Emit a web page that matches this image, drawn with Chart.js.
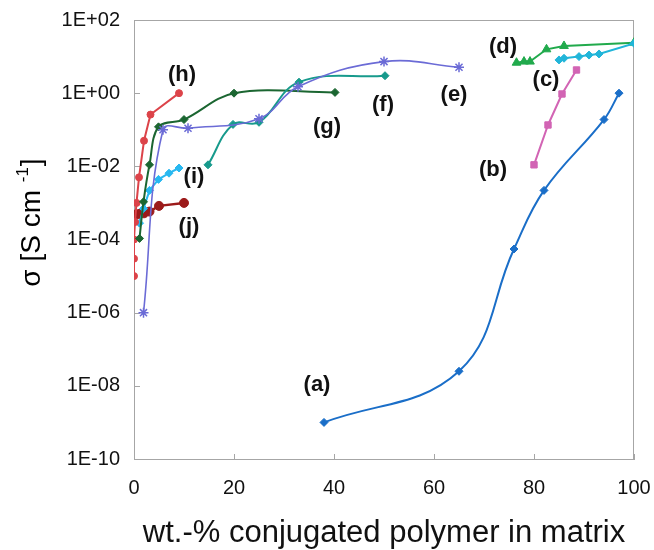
<!DOCTYPE html>
<html>
<head>
<meta charset="utf-8">
<script src="https://cdn.jsdelivr.net/npm/chart.js@4.4.1/dist/chart.umd.min.js"></script>
<style>
  html, body { margin: 0; padding: 0; background: #ffffff; }
  #wrap { width: 654px; height: 550px; position: relative; }
</style>
</head>
<body>
<div id="wrap"><canvas id="c" width="654" height="550"></canvas></div>
<script>
// ---- data ----
const seriesNames = ['(a)', '(b)', '(c)', '(d)', '(e)', '(f)', '(g)', '(h)', '(i)', '(j)'];

const aX = [38, 65, 76, 82, 94, 97];
const aY = [1e-9, 2.5e-8, 5.5e-5, 2.2e-3, 0.19, 1.0];

const bX = [80, 82.8, 85.6, 88.5];
const bY = [0.011, 0.135, 0.95, 4.3];

const cX = [85, 86, 89, 91, 93, 100];
const cY = [8.1, 9, 10, 11, 11.8, 23];

const dX = [76.5, 78, 79.2, 82.5, 86, 100];
const dY = [6.8, 7.3, 7.3, 15.8, 19.5, 24];

const eX = [1.9, 5.8, 10.8, 25, 32.8, 50, 65];
const eY = [1e-6, 0.1, 0.11, 0.2, 1.5, 7.3, 5.1];

const fX = [14.8, 19.8, 25, 33, 50.2];
const fY = [0.011, 0.14, 0.16, 2.0, 3.0];

const gX = [1.1, 1.9, 3.1, 4.9, 10, 20, 40.2];
const gY = [1.07e-4, 1.07e-3, 0.011, 0.12, 0.19, 1.0, 1.05];

const hX = [0, 0, 0, 0.2, 0.5, 1.0, 2.0, 3.3, 9.0];
const hY = [1e-5, 3e-5, 1e-4, 3e-4, 1e-3, 5e-3, 0.05, 0.26, 1.0];

const iX = [1.1, 1.9, 3.1, 4.9, 7, 9];
const iY = [2.8e-4, 7e-4, 2.2e-3, 4.4e-3, 6.5e-3, 9e-3];

const jX = [0.3, 1, 2, 3.1, 5, 10];
const jY = [4.8e-4, 5e-4, 5.2e-4, 5.8e-4, 8.3e-4, 1e-3];

const xTickValues = [0, 20, 40, 60, 80, 100];
const yTickValues = [1e-10, 1e-8, 1e-6, 1e-4, 1e-2, 1, 100];
const yTickLabels = ['1E-10', '1E-08', '1E-06', '1E-04', '1E-02', '1E+00', '1E+02'];

// series-label anchor points (in data units)
const labelX = [36.6, 71.8, 82.4, 73.8, 64, 49.8, 38.6, 9.6, 12, 11];
const labelY = [1.05e-8, 7.9e-3, 2.3, 18.3, 0.89, 0.48, 0.119, 3.1, 5.1e-3, 2.2e-4];

// ---- build ----
const pts = (xs, ys) => xs.map((x, i) => ({ x: x, y: ys[i] }));

function ds(name, xs, ys, color, style, radius, tension, width) {
  return {
    label: name,
    data: pts(xs, ys),
    borderColor: color,
    backgroundColor: color,
    pointStyle: style,
    pointRadius: radius,
    pointBorderWidth: style === 'star' ? 1.5 : 1,
    pointBorderColor: color,
    pointBackgroundColor: color,
    borderWidth: width,
    tension: tension,
    fill: false
  };
}

const datasets = [
  ds('(a)', aX, aY, '#1a6ec8', 'rectRot', 4, 0.4, 2),
  ds('(b)', bX, bY, '#d264b4', 'rect', 4.5, 0, 2),
  ds('(c)', cX, cY, '#21b5d9', 'rectRot', 4, 0, 2),
  ds('(d)', dX, dY, '#21aa4c', 'triangle', 5, 0, 2),
  ds('(e)', eX, eY, '#6b6bd6', 'star', 5, 0.4, 1.6),
  ds('(f)', fX, fY, '#179a8c', 'rectRot', 4, 0.4, 2),
  ds('(g)', gX, gY, '#1b6631', 'rectRot', 4, 0.35, 2),
  ds('(h)', hX, hY, '#dc4349', 'circle', 3.5, 0, 2),
  ds('(i)', iX, iY, '#28b8f0', 'rectRot', 4, 0, 2),
  ds('(j)', jX, jY, '#9c1a1a', 'circle', 4.5, 0, 2.5)
];

const AXIS = '#a6a6a6';

const decor = {
  id: 'decor',
  beforeDatasetsDraw(chart) {
    const { ctx, chartArea: ca, scales } = chart;
    ctx.save();
    ctx.strokeStyle = AXIS;
    ctx.lineWidth = 1;
    ctx.beginPath();
    // top and right frame
    ctx.moveTo(ca.left, ca.top + 0.5); ctx.lineTo(ca.right, ca.top + 0.5);
    ctx.moveTo(ca.right - 0.5, ca.top); ctx.lineTo(ca.right - 0.5, ca.bottom);
    // inward tick marks
    scales.x.ticks.forEach(t => {
      const px = Math.round(scales.x.getPixelForValue(t.value)) + 0.5;
      ctx.moveTo(px, ca.bottom); ctx.lineTo(px, ca.bottom - 5);
    });
    scales.y.ticks.forEach(t => {
      const py = Math.round(scales.y.getPixelForValue(t.value)) + 0.5;
      ctx.moveTo(ca.left, py); ctx.lineTo(ca.left + 6, py);
    });
    ctx.stroke();
    ctx.restore();
  },
  afterDraw(chart) {
    const { ctx, scales } = chart;
    ctx.save();
    // series labels
    ctx.fillStyle = '#111111';
    ctx.font = 'bold 22px "Liberation Sans", Arial, sans-serif';
    ctx.textAlign = 'center';
    ctx.textBaseline = 'middle';
    seriesNames.forEach((n, i) => {
      ctx.fillText(n, scales.x.getPixelForValue(labelX[i]), scales.y.getPixelForValue(labelY[i]));
    });
    // y axis title with superscript
    ctx.translate(32, 223);
    ctx.rotate(-Math.PI / 2);
    const mainFont = '28px "Liberation Sans", Arial, sans-serif';
    const supFont = '17px "Liberation Sans", Arial, sans-serif';
    const p1 = 'σ [S cm ', p2 = '-1', p3 = ']';
    ctx.font = mainFont; const w1 = ctx.measureText(p1).width; const w3 = ctx.measureText(p3).width;
    ctx.font = supFont; const w2 = ctx.measureText(p2).width;
    let x0 = -(w1 + w2 + w3) / 2;
    ctx.textAlign = 'left';
    ctx.fillStyle = '#000000';
    ctx.font = mainFont; ctx.fillText(p1, x0, 0);
    ctx.font = supFont; ctx.fillText(p2, x0 + w1, -9);
    ctx.font = mainFont; ctx.fillText(p3, x0 + w1 + w2 + 1, 0);
    ctx.restore();
  }
};

new Chart(document.getElementById('c'), {
  type: 'line',
  data: { datasets: datasets },
  options: {
    responsive: false,
    animation: false,
    devicePixelRatio: 1,
    layout: { padding: { top: 20, right: 20, left: 0, bottom: 0 } },
    plugins: { legend: { display: false }, tooltip: { enabled: false } },
    scales: {
      x: {
        type: 'linear',
        min: 0, max: 100,
        afterBuildTicks: s => { s.ticks = xTickValues.map(v => ({ value: v })); },
        afterFit: s => { s.height = 91; s.paddingLeft = 0; s.paddingRight = 0; s.paddingTop = 0; s.paddingBottom = 0; },
        grid: { display: false, drawTicks: false },
        border: { display: true, color: AXIS, width: 1 },
        ticks: {
          padding: 17,
          color: '#111111',
          font: { size: 20, family: '"Liberation Sans", Arial, sans-serif' },
          maxRotation: 0,
          callback: v => String(v)
        },
        title: {
          display: true,
          text: 'wt.-% conjugated polymer in matrix',
          color: '#111111',
          font: { size: 31, family: '"Liberation Sans", Arial, sans-serif', lineHeight: 1 },
          padding: { top: 0, bottom: 1.5 }
        }
      },
      y: {
        type: 'logarithmic',
        min: 1e-10, max: 100,
        afterBuildTicks: s => { s.ticks = yTickValues.map(v => ({ value: v })); },
        afterFit: s => { s.width = 134; s.paddingLeft = 0; s.paddingRight = 0; s.paddingTop = 0; s.paddingBottom = 0; },
        grid: { display: false, drawTicks: false },
        border: { display: true, color: AXIS, width: 1 },
        ticks: {
          padding: 14,
          color: '#111111',
          font: { size: 20, family: '"Liberation Sans", Arial, sans-serif' },
          callback: v => {
            let best = 0;
            yTickValues.forEach((t, i) => {
              if (Math.abs(Math.log10(t) - Math.log10(v)) < Math.abs(Math.log10(yTickValues[best]) - Math.log10(v))) best = i;
            });
            return yTickLabels[best];
          }
        }
      }
    }
  },
  plugins: [decor]
});
</script>
</body>
</html>
